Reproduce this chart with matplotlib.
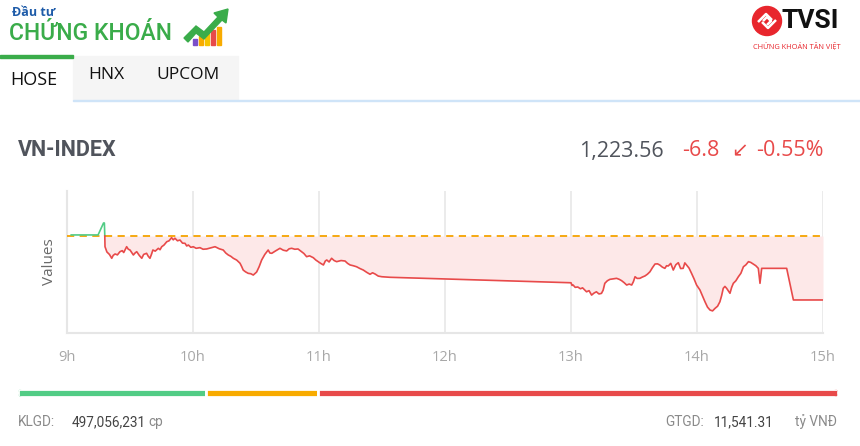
import matplotlib
matplotlib.use("Agg")
import matplotlib.pyplot as plt
from matplotlib.patches import Rectangle, FancyBboxPatch, Ellipse, Polygon
from matplotlib.lines import Line2D
from matplotlib.transforms import IdentityTransform
import numpy as np

W, H = 860, 446

# ---- data (minutes after 9:00, index points) ----
ref_value = 1230.36
close_value = 1223.56
change = -6.8
change_pct = -0.55

green_t = [2.0, 14.8, 17.4, 17.8, 18.0]
green_v = [1230.47, 1230.47, 1231.74, 1231.74, 1230.36]

red_t = [18.0, 18.1, 19.0, 20.2, 21.3, 22.0, 22.9, 24.0, 25.2, 26.3, 27.0, 28.4, 29.2, 30.0,
         30.8, 31.6, 32.4, 33.2, 34.4, 35.6, 36.5, 37.9, 38.7, 39.5, 40.2, 40.9, 42.0, 43.5,
         44.3, 45.1, 46.2, 47.5, 48.6, 49.8, 50.6, 51.4, 52.6, 53.8, 55.0, 56.2, 57.0, 57.8,
         59.0, 60.1, 61.5, 63.3, 64.8, 66.5, 68.5, 70.5, 72.5, 74.4, 75.6, 76.8, 78.0, 79.2,
         80.8, 82.4, 83.2, 83.9, 85.0, 86.3, 87.5, 88.7, 90.3, 91.5, 92.7, 94.2, 95.8, 96.6,
         97.5, 99.5, 101.4, 103.0, 104.6, 105.8, 107.0, 108.5, 110.0, 111.7, 112.8, 114.1,
         115.5, 117.3, 118.5, 119.6, 120.8, 122.1, 123.0, 123.7, 124.8, 126.0, 127.2, 128.4,
         130.5, 132.4, 133.6, 134.8, 136.3, 137.9, 139.5, 141.1, 142.7, 144.3, 145.5, 146.7,
         148.2, 149.9, 151.8, 153.8,
         240.0, 240.5, 241.0, 242.0, 243.2, 244.5, 245.5, 247.4, 248.6, 249.8, 251.0, 252.1,
         253.3, 254.5, 255.3, 256.1, 257.3, 258.5, 260.0, 261.7, 263.0, 264.1, 265.3, 266.5,
         267.7, 268.9, 269.7, 270.5, 271.5, 272.8, 274.0, 275.2, 276.4, 277.6, 278.8, 280.0,
         281.2, 282.3, 283.5, 284.7, 285.5, 286.3, 287.5, 288.7, 289.9, 291.1, 292.2, 293.4,
         294.2, 295.0, 296.2, 297.4, 298.6, 299.8, 301.4, 302.6, 303.8, 305.0, 306.2, 307.4,
         308.6, 309.8, 310.9, 311.7, 312.5, 313.3, 314.1, 315.0, 315.7, 316.5, 317.3, 318.5,
         319.7, 320.9, 322.1, 323.3, 324.5, 325.6, 326.8, 328.0, 329.2, 330.0, 330.8, 342.7,
         345.9, 360.0]
red_v = [1230.36, 1229.22, 1228.66, 1228.40, 1227.99, 1228.30, 1228.45, 1228.35, 1228.69,
         1228.80, 1228.60, 1229.22, 1228.95, 1228.87, 1228.60, 1228.34, 1228.55, 1228.69,
         1228.30, 1227.99, 1228.40, 1228.52, 1228.20, 1227.99, 1228.40, 1228.87, 1228.75,
         1229.05, 1228.90, 1229.22, 1229.40, 1229.75, 1229.85, 1230.18, 1229.95, 1230.12,
         1229.85, 1229.93, 1229.60, 1229.58, 1229.30, 1229.40, 1229.15, 1229.22, 1229.05,
         1229.12, 1228.95, 1228.98, 1229.10, 1229.22, 1229.00, 1228.87, 1228.55, 1228.34,
         1228.20, 1227.99, 1227.80, 1227.46, 1227.10, 1226.74, 1226.55, 1226.39, 1226.35,
         1226.21, 1226.53, 1227.10, 1227.81, 1228.40, 1228.87, 1228.55, 1228.52, 1228.80,
         1229.05, 1228.85, 1228.77, 1229.00, 1229.05, 1228.95, 1228.98, 1228.69, 1228.50,
         1228.16, 1228.25, 1228.05, 1227.80, 1227.63, 1227.45, 1227.28, 1227.70, 1227.81,
         1227.60, 1227.99, 1227.75, 1227.63, 1227.75, 1227.70, 1227.45, 1227.28, 1227.20,
         1227.09, 1226.90, 1226.74, 1226.50, 1226.29, 1226.45, 1226.32, 1226.10, 1226.03,
         1226.00, 1225.97,
         1225.39, 1225.10, 1225.15, 1224.90, 1224.94, 1224.75, 1224.85, 1224.43, 1224.55,
         1224.08, 1224.30, 1224.43, 1224.20, 1224.26, 1224.60, 1225.33, 1225.60, 1225.75,
         1225.80, 1225.86, 1225.75, 1225.61, 1225.40, 1225.15, 1225.25, 1225.15, 1225.50,
         1226.03, 1225.85, 1225.86, 1226.00, 1226.11, 1226.30, 1226.56, 1227.00, 1227.38,
         1227.40, 1227.27, 1227.05, 1226.92, 1227.20, 1227.17, 1227.45, 1226.74, 1227.30,
         1227.52, 1226.90, 1226.92, 1227.50, 1227.28, 1226.95, 1226.39, 1225.80, 1225.15,
         1224.62, 1224.00, 1223.37, 1222.80, 1222.49, 1222.40, 1222.67, 1222.90, 1223.37,
         1224.00, 1224.80, 1225.00, 1224.80, 1224.50, 1224.27, 1224.90, 1225.33, 1225.60,
         1226.03, 1226.40, 1227.09, 1227.30, 1227.63, 1227.55, 1227.38, 1227.20, 1226.92,
         1225.33, 1226.92, 1226.92, 1223.56, 1223.56]
assert len(red_t) == len(red_v)

hour_ticks = [0, 60, 120, 180, 240, 300, 360]
hour_labels = ["9h", "10h", "11h", "12h", "13h", "14h", "15h"]

# advancing / unchanged / declining (bar proportions)
breadth_counts = [117, 69, 323]
breadth_colors = ["#52cc85", "#f8ab00", "#e84a4a"]

volume = "497,056,231"
value = "11,541.31"

tabs = ["HOSE", "HNX", "UPCOM"]

RED = "#e84a4a"
GREEN = "#52cc85"
DARK = "#50545c"
FONT = ["Open Sans", "DejaVu Sans"]

plt.rcParams["font.family"] = FONT


def fx(x):
    return x / W


def fy(y):
    return 1 - y / H


fig = plt.figure(figsize=(W / 100, H / 100), dpi=100)
fig.patch.set_facecolor("white")

# ---- header: logo ----
fig.text(fx(12), fy(13), "Đầu tư", color="#1f5ca9", fontsize=9, fontweight="bold",
         va="center", ha="left")
fig.text(fx(9), fy(34), "CHỨNG KHOÁN", color="#3aac4a", fontsize=16.5, va="center",
         ha="left", fontweight="medium", family=["Roboto", "DejaVu Sans"])
bar_cols = ["#7b4fc9", "#f8ab00", "#f5c400", "#e84a4a", "#f8ab00"]
for i, c in enumerate(bar_cols):
    h = 6 + i * 3
    fig.add_artist(Rectangle((fx(193 + i * 6), fy(45)), fx(4), h / H, color=c))
fig.add_artist(Polygon([(fx(184), fy(38)), (fx(196), fy(26)), (fx(204), fy(32)),
                        (fx(218), fy(17)), (fx(214), fy(13)), (fx(228), fy(9)),
                        (fx(226), fy(23)), (fx(222), fy(20)), (fx(204), fy(39)),
                        (fx(196), fy(33)), (fx(188), fy(42))],
                       closed=True, color="#3aac4a"))

# TVSI logo
fig.add_artist(Ellipse((fx(767), fy(21)), 29 / W, 29 / H, color="#e8262d",
                       transform=fig.transFigure))
for pts in ([(758, 22), (766, 14), (772, 20)], [(776, 20), (768, 28), (762, 22)],
            [(763, 21), (767, 17), (771, 21), (767, 25)]):
    fig.add_artist(Line2D([fx(p[0]) for p in pts], [fy(p[1]) for p in pts],
                          color="white", lw=1.8, solid_capstyle="butt"))
fig.text(fx(782), fy(21), "TVSI", color="#111111", fontsize=19, fontweight="bold",
         ha="left", va="center", family=["Roboto", "DejaVu Sans"])
fig.text(fx(753), fy(46), "CHỨNG KHOÁN TÂN VIỆT", color="#e8262d", fontsize=5.3,
         ha="left", va="center")

# ---- tabs ----
fig.add_artist(Rectangle((fx(73), fy(99)), fx(165), 43 / H, color="#f5f5f5"))
fig.add_artist(Rectangle((fx(0), fy(58)), fx(73), 2.5 / H, color="#3aac4a"))
fig.add_artist(Rectangle((fx(73), fy(101)), fx(787), 1.5 / H, color="#cfe4f8"))
fig.text(fx(10), fy(80), tabs[0], fontsize=13, color="#111111", va="center", ha="left")
fig.text(fx(88), fy(75), tabs[1], fontsize=12.5, color="#111111", va="center", ha="left")
fig.text(fx(156), fy(75), tabs[2], fontsize=12.5, color="#111111", va="center", ha="left")

# ---- title row ----
fig.text(fx(18), fy(150), "VN-INDEX", fontsize=15.5, fontweight="bold", color=DARK,
         va="center", ha="left", family=["Roboto", "DejaVu Sans"])
fig.text(fx(664), fy(151), f"{close_value:,.2f}", fontsize=15.5, color=DARK,
         va="center", ha="right")
fig.text(fx(682), fy(151), f"{change:.1f}", fontsize=15.5, color=RED, va="center", ha="left")
fig.text(fx(740), fy(151), "↙", fontsize=14.5, color=RED, va="center", ha="center",
         family=["DejaVu Sans"])
fig.text(fx(824), fy(151), f"{change_pct:.2f}%", fontsize=15.5, color=RED,
         va="center", ha="right")

# ---- chart ----
ax = fig.add_axes([fx(67), fy(333), fx(823 - 67), (333 - 191) / H])
ax.set_xlim(0, 360)
ax.set_ylim(1220.05, 1235.14)
for s in ["top", "right"]:
    ax.spines[s].set_visible(False)
for s in ["left", "bottom"]:
    ax.spines[s].set_color("#e6e6e6")
    ax.spines[s].set_linewidth(1.5)
ax.set_xticks(hour_ticks)
ax.set_xticklabels(hour_labels, color="#a8a8a8", fontsize=10.5)
ax.set_yticks([])
ax.tick_params(axis="x", length=0, pad=12)
for t in hour_ticks[1:]:
    ax.axvline(t, color="#e8e8e8", lw=1.2, zorder=0)
ax.set_ylabel("Values", color="#6a6a6a", fontsize=11, labelpad=7)

ax.fill_between(red_t, red_v, ref_value, where=np.array(red_v) <= ref_value,
                color="#fde8e8", lw=0, zorder=1)
ax.axhline(ref_value, color="#f5a300", lw=1.3, dashes=(4, 3), zorder=3)
ax.plot(green_t, green_v, color=GREEN, lw=1.2, zorder=4)
ax.plot(red_t, red_v, color=RED, lw=1.2, zorder=4)

# ---- breadth bar ----
bx = fig.add_axes([fx(18), fy(397), fx(820), 8 / H])
bx.set_xlim(0, sum(breadth_counts))
bx.set_ylim(0, 1)
bx.axis("off")
clip = FancyBboxPatch((18, H - 397), 820, 8, boxstyle="round,pad=0,rounding_size=4",
                      transform=IdentityTransform(), facecolor="none", edgecolor="none")
fig.add_artist(clip)
lefts = np.cumsum([0] + breadth_counts[:-1])
bars = bx.barh(0.5, breadth_counts, left=lefts, height=1, color=breadth_colors,
               edgecolor="white", linewidth=2)
for b in bars:
    b.set_clip_path(clip)

# ---- footer ----
FOOT = dict(fontsize=9.8, va="center", family=["Roboto", "DejaVu Sans"])
fig.text(fx(18), fy(422), "KLGD:", color="#8a8a8a", **FOOT)
fig.text(fx(72), fy(422), volume, color="#444444", **FOOT)
fig.text(fx(148), fy(422), "cp", color="#8a8a8a", **FOOT)
fig.text(fx(837), fy(422), "tỷ VNĐ", color="#8a8a8a", ha="right", **FOOT)
fig.text(fx(774), fy(422), value, color="#444444", ha="right", **FOOT)
fig.text(fx(704), fy(422), "GTGD:", color="#8a8a8a", ha="right", **FOOT)

fig.savefig("out.png", dpi=100, facecolor="white")
